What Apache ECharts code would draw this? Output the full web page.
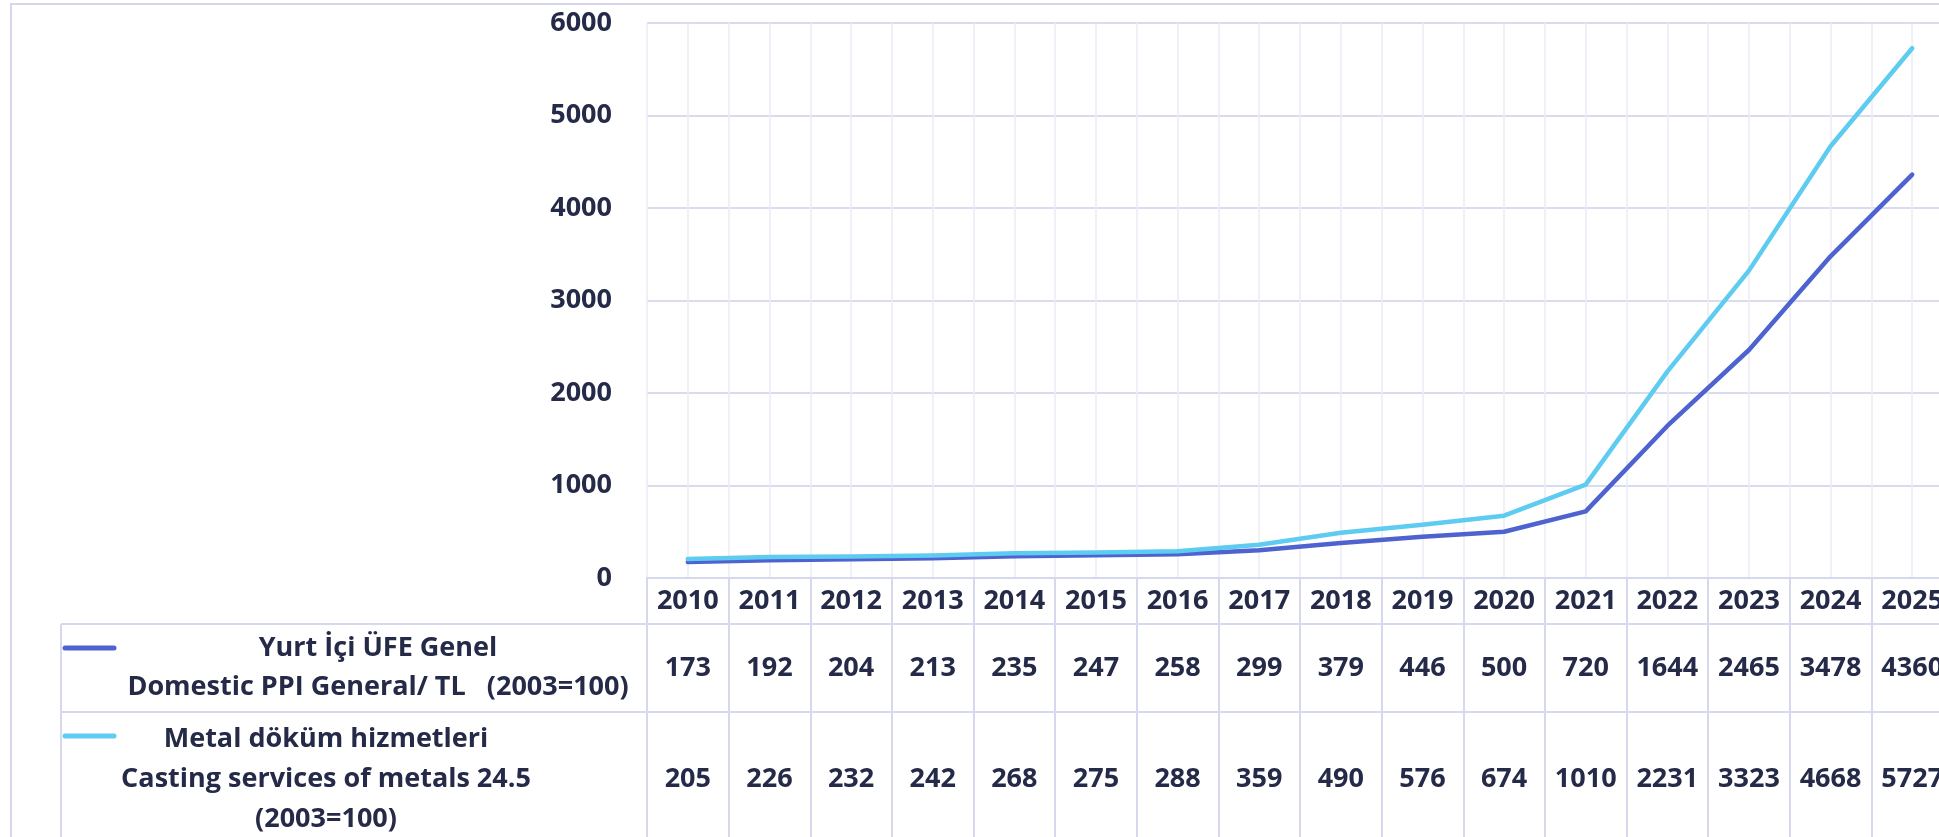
<!DOCTYPE html>
<html>
<head>
<meta charset="utf-8">
<title>ÜFE / Metal döküm hizmetleri</title>
<script src="https://cdn.jsdelivr.net/npm/echarts@6/dist/echarts.min.js"></script>
<style>
  html, body { margin: 0; padding: 0; background: #fff; }
  #chart { width: 1939px; height: 837px; }
</style>
</head>
<body>
<div id="chart"></div>
<script>
const years = ["2010", "2011", "2012", "2013", "2014", "2015", "2016", "2017",
  "2018", "2019", "2020", "2021", "2022", "2023", "2024", "2025"];
const ppiGeneral = [173, 192, 204, 213, 235, 247, 258, 299, 379, 446, 500, 720, 1644, 2465, 3478, 4360];
const castingMetals = [205, 226, 232, 242, 268, 275, 288, 359, 490, 576, 674, 1010, 2231, 3323, 4668, 5727];
const yRange = [0, 6000];
const yStep = 1000;
const ppiName = ["Yurt İçi ÜFE Genel", "Domestic PPI General/ TL   (2003=100)"];
const castingName = ["Metal döküm hizmetleri", "Casting services of metals 24.5", "(2003=100)"];

const colors = ["#4e63cf", "#5ecbf1"];
const textColor = "#242a47";
const font = "Open Sans";
const fontSize = 27;
const borderColor = "#d6d9ee";

// table rows under the x axis
const rowYear = 46;
const rowPpi = 88;
const rowCasting = 134;

const grid = { left: 647, top: 23, width: 1306, height: 555 };
const axisY = grid.top + grid.height;

const chart = echarts.init(document.getElementById("chart"));

const cellText = { fontFamily: font, fontWeight: "bold", fontSize: fontSize, color: textColor };

chart.setOption({
  animation: false,
  color: colors,
  grid: {
    left: grid.left,
    top: grid.top,
    width: grid.width,
    height: grid.height,
    containLabel: false,
    outerBoundsMode: "none",
  },
  xAxis: [
    {
      type: "category",
      data: years,
      boundaryGap: true,
      axisLine: { lineStyle: { color: borderColor, width: 2 } },
      axisTick: {
        show: true,
        interval: 0,
        length: 280,
        lineStyle: { color: borderColor, width: 2 },
      },
      splitLine: { show: false },
      axisLabel: {
        interval: 0,
        margin: 0,
        hideOverlap: false,
        formatter: (value, i) =>
          `{y|${value}}\n{a|${ppiGeneral[i]}}\n{b|${castingMetals[i]}}`,
        rich: {
          y: Object.assign({ lineHeight: rowYear }, cellText),
          a: Object.assign({ lineHeight: rowPpi }, cellText),
          b: Object.assign({ lineHeight: rowCasting }, cellText),
        },
      },
    },
    {
      // helper axis only for the thin vertical grid (every half year)
      type: "value",
      position: "top",
      min: 0,
      max: years.length * 2,
      interval: 1,
      axisLine: { show: false },
      axisTick: { show: false },
      axisLabel: { show: false },
      splitLine: { show: true, lineStyle: { color: "#ebecf6", width: 1.5 } },
    },
  ],
  yAxis: {
    type: "value",
    min: yRange[0],
    max: yRange[1],
    interval: yStep,
    axisLine: { show: false },
    axisTick: { show: false },
    axisLabel: Object.assign({ margin: 35, formatter: (v) => String(v) }, cellText),
    splitLine: { lineStyle: { color: "#d9dcef", width: 2 } },
  },
  series: [
    {
      name: ppiName.join(" "),
      type: "line",
      data: ppiGeneral,
      symbol: "none",
      z: 3,
      lineStyle: { width: 4.5, cap: "round", join: "round" },
    },
    {
      name: castingName.join(" "),
      type: "line",
      data: castingMetals,
      symbol: "none",
      z: 4,
      lineStyle: { width: 4.5, cap: "round", join: "round" },
    },
  ],
});

// legend cells of the data table + outer frame
const tableLeft = 61;
const row1Top = axisY + rowYear;
const row2Top = row1Top + rowPpi;
const labelStyle = {
  fontFamily: font,
  fontWeight: "bold",
  fontSize: fontSize,
  fill: textColor,
  align: "center",
  verticalAlign: "middle",
};

chart.setOption({
  graphic: [
    {
      type: "rect",
      shape: { x: 11, y: 4, width: 2000, height: 900 },
      style: { fill: "none", stroke: "#d4d7ee", lineWidth: 2 },
      silent: true,
    },
    {
      type: "line",
      shape: { x1: tableLeft, y1: row1Top, x2: 1939, y2: row1Top },
      style: { stroke: borderColor, lineWidth: 2 },
    },
    {
      type: "line",
      shape: { x1: tableLeft, y1: row2Top, x2: 1939, y2: row2Top },
      style: { stroke: borderColor, lineWidth: 2 },
    },
    {
      type: "line",
      shape: { x1: tableLeft, y1: row1Top, x2: tableLeft, y2: 837 },
      style: { stroke: borderColor, lineWidth: 2 },
    },
    {
      type: "line",
      shape: { x1: 65, y1: row1Top + 24, x2: 114, y2: row1Top + 24 },
      style: { stroke: colors[0], lineWidth: 5, lineCap: "round" },
    },
    {
      type: "line",
      shape: { x1: 65, y1: row2Top + 24, x2: 114, y2: row2Top + 24 },
      style: { stroke: colors[1], lineWidth: 5, lineCap: "round" },
    },
    {
      type: "text",
      x: 378,
      y: row1Top + rowPpi / 2,
      style: Object.assign({ text: ppiName.join("\n"), lineHeight: 39 }, labelStyle),
    },
    {
      type: "text",
      x: 326,
      y: row2Top + rowCasting / 2,
      style: Object.assign({ text: castingName.join("\n"), lineHeight: 40 }, labelStyle),
    },
  ],
});
</script>
</body>
</html>
